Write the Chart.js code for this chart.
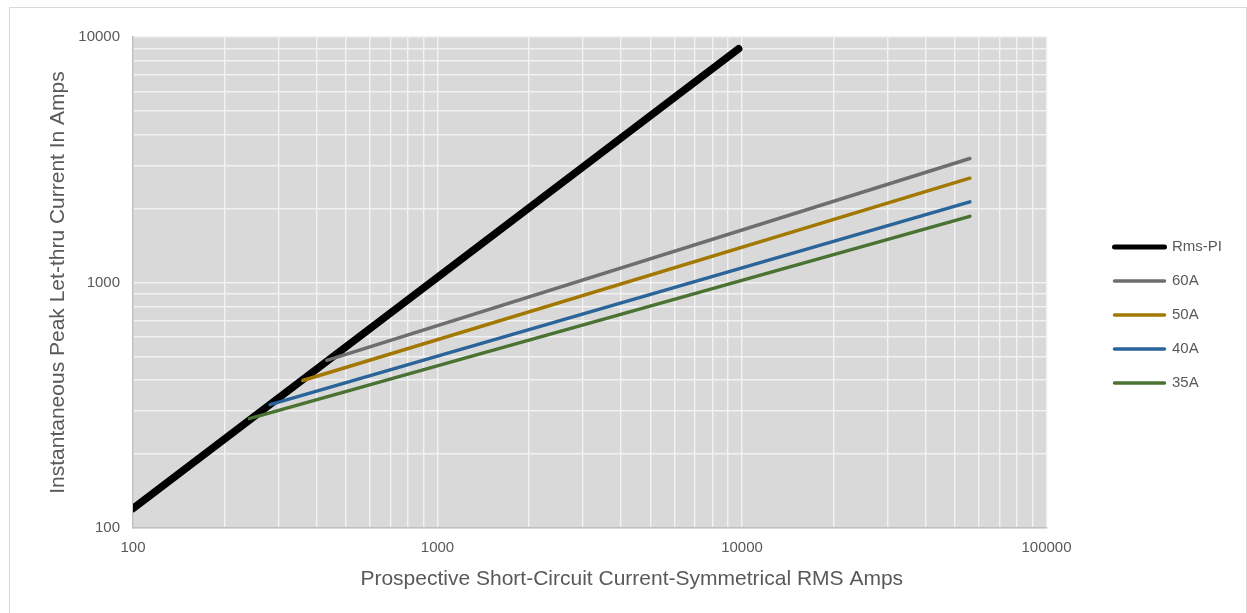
<!DOCTYPE html>
<html>
<head>
<meta charset="utf-8">
<script src="https://cdn.jsdelivr.net/npm/chart.js@4.4.1/dist/chart.umd.min.js"></script>
<style>
  html, body { margin: 0; padding: 0; background: #fff; overflow: hidden; }
  #marco { position: absolute; left: 9px; top: 7px; width: 1238px; height: 640px; border: 1px solid #d9d9d9; box-sizing: border-box; }
  #grafico { position: absolute; left: 0; top: 0; }
</style>
</head>
<body>
<div id="marco"></div>
<canvas id="grafico" width="1247" height="613"></canvas>
<script>
// Curvas de corriente de paso (escala log-log)
const nombres = ["Rms-PI", "60A", "50A", "40A", "35A"];
const colores = ["#000000", "#6e6e6e", "#a27800", "#2a6499", "#4a7232"];
const rmsPiX = [100, 9750];
const rmsPiY = [120, 8950];
const a60X = [433, 56000];
const a60Y = [482, 3200];
const a50X = [361, 56000];
const a50Y = [399, 2660];
const a40X = [282, 56000];
const a40Y = [318, 2130];
const a35X = [241, 56000];
const a35Y = [279, 1860];

// Ticks: rejilla en cada múltiplo entero de la década, etiqueta solo en potencias de 10
const decadasX = [100, 1000, 10000];
const decadasY = [100, 1000];
const multiplos = [1, 2, 3, 4, 5, 6, 7, 8, 9];
const etiquetasX = [100, 1000, 10000, 100000];
const etiquetasY = [100, 1000, 10000];

const textoEjeX = "Prospective Short-Circuit Current-Symmetrical RMS Amps";
const textoEjeY = "Instantaneous Peak Let-thru Current In Amps";

function lineasRejilla(decadas, ultimo) {
    const valores = [];
    decadas.forEach(d => multiplos.forEach(m => valores.push(d * m)));
    valores.push(ultimo);
    return valores;
}
const rejillaX = lineasRejilla(decadasX, 100000);
const rejillaY = lineasRejilla(decadasY, 10000);

function puntos(xs, ys) {
    return xs.map((x, i) => ({ x: x, y: ys[i] }));
}

const xs = [rmsPiX, a60X, a50X, a40X, a35X];
const ys = [rmsPiY, a60Y, a50Y, a40Y, a35Y];

const fuente = '"Liberation Sans", Arial, sans-serif';
Chart.defaults.font.family = fuente;
Chart.defaults.color = "#595959";

// Fondo gris del área de trazado
const fondo = {
    id: "fondo",
    beforeDraw(chart) {
        const { ctx, chartArea } = chart;
        ctx.save();
        ctx.fillStyle = "#d9d9d9";
        ctx.fillRect(chartArea.left, chartArea.top, chartArea.right - chartArea.left, chartArea.bottom - chartArea.top);
        ctx.restore();
    }
};

// Título del eje X (desplazado como en el original)
const tituloX = {
    id: "tituloX",
    afterDraw(chart) {
        const { ctx, chartArea } = chart;
        ctx.save();
        ctx.font = "21px " + fuente;
        ctx.fillStyle = "#595959";
        ctx.textAlign = "center";
        ctx.textBaseline = "middle";
        ctx.fillText(textoEjeX, (chartArea.left + chartArea.right) / 2 + 42, chartArea.bottom + 51);
        ctx.restore();
    }
};

const datasets = nombres.map((n, i) => ({
    label: n,
    data: puntos(xs[i], ys[i]),
    borderColor: colores[i],
    backgroundColor: colores[i],
    pointBorderColor: colores[i],
    pointBorderWidth: i === 0 ? 5 : 3.5,
    borderWidth: i === 0 ? 7.5 : 3.5,
    borderCapStyle: "round",
    pointRadius: 0,
    fill: false,
    clip: 0,
    order: i === 0 ? 1 : 0
}));

const ctx = document.getElementById("grafico").getContext("2d");
const grafico = new Chart(ctx, {
    type: "line",
    data: { datasets: datasets },
    plugins: [fondo, tituloX],
    options: {
        responsive: false,
        animation: false,
        devicePixelRatio: 1,
        layout: { padding: { top: 37, right: 15, bottom: 20, left: 0 } },
        plugins: {
            tooltip: { enabled: false },
            legend: {
                position: "right",
                labels: {
                    usePointStyle: true,
                    pointStyle: "line",
                    pointStyleWidth: 50,
                    padding: 19,
                    color: "#595959",
                    font: { size: 15 },
                    sort: (a, b) => a.datasetIndex - b.datasetIndex,
                    generateLabels: (chart) => Chart.defaults.plugins.legend.labels.generateLabels(chart)
                        .map(it => Object.assign(it, { lineCap: "round" }))
                }
            }
        },
        scales: {
            x: {
                type: "logarithmic",
                min: 100,
                max: 100000,
                afterBuildTicks: (s) => { s.ticks = rejillaX.map(v => ({ value: v })); },
                afterFit: (s) => { s.height = 65; },
                grid: { color: "#f2f2f2", lineWidth: 1.4, drawTicks: false },
                border: { color: "#bfbfbf", width: 1.5 },
                ticks: {
                    autoSkip: false,
                    maxRotation: 0,
                    padding: 11,
                    font: { size: 15 },
                    callback: (v) => etiquetasX.includes(v) ? String(v) : ""
                }
            },
            y: {
                type: "logarithmic",
                min: 100,
                max: 10000,
                afterBuildTicks: (s) => { s.ticks = rejillaY.map(v => ({ value: v })); },
                afterFit: (s) => { s.width = 133; },
                grid: { color: "#f2f2f2", lineWidth: 1.4, drawTicks: false },
                border: { color: "#bfbfbf", width: 1.5 },
                title: {
                    display: true,
                    text: textoEjeY,
                    color: "#595959",
                    font: { size: 21 },
                    padding: { top: 46, bottom: 0 }
                },
                ticks: {
                    autoSkip: false,
                    padding: 13,
                    font: { size: 15 },
                    callback: (v) => etiquetasY.includes(v) ? String(v) : ""
                }
            },
            hueco: {
                type: "linear",
                position: "right",
                display: true,
                grid: { display: false },
                border: { display: false },
                ticks: { display: false },
                afterFit: (s) => { s.width = 49; }
            }
        }
    }
});
</script>
</body>
</html>
